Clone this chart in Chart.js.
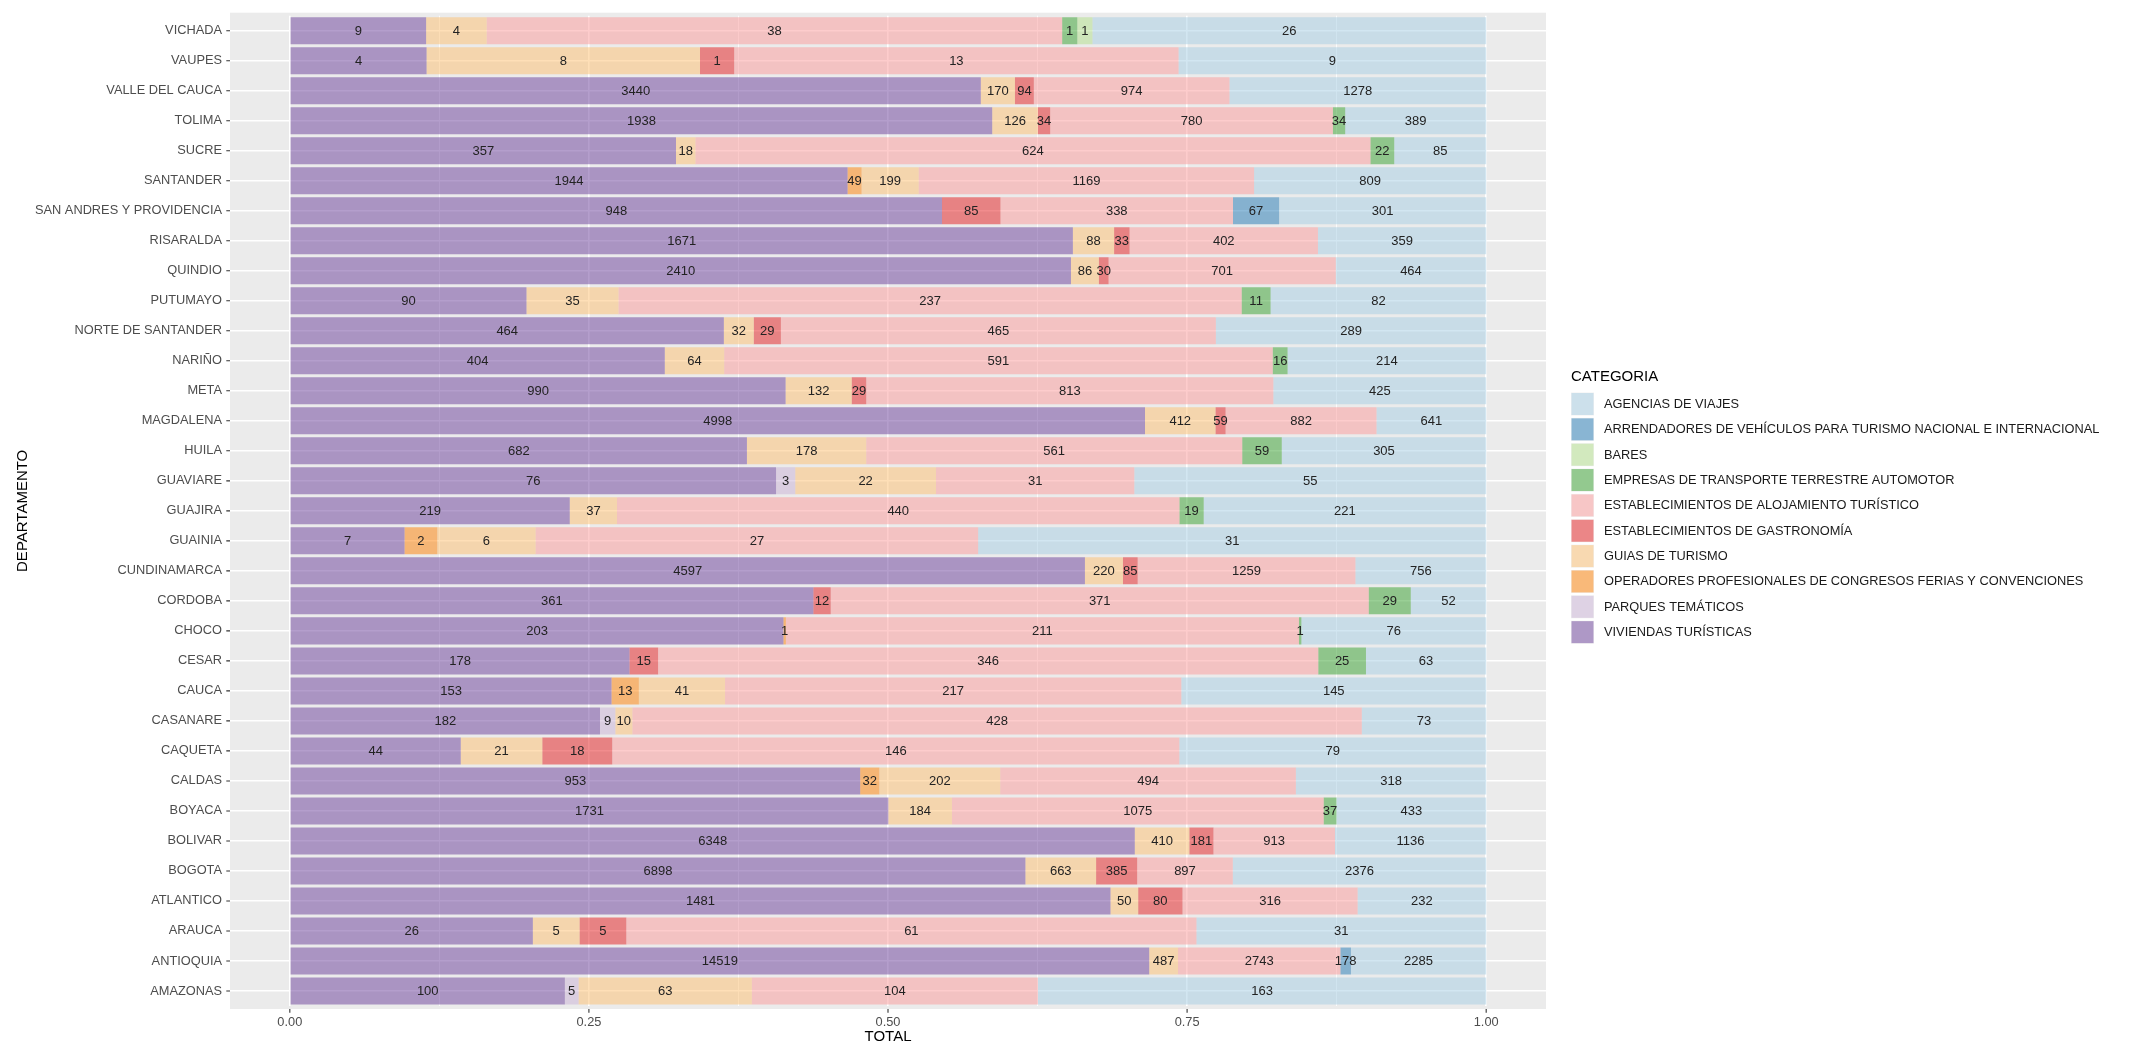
<!DOCTYPE html>
<html>
<head>
<meta charset="utf-8">
<script src="https://cdn.jsdelivr.net/npm/chart.js@4.4.1/dist/chart.umd.min.js"></script>
<style>
  html, body { margin: 0; padding: 0; background: #ffffff; }
  #wrap { width: 2131px; height: 1047px; position: relative; }
</style>
</head>
<body>
<div id="wrap"><canvas id="c"></canvas></div>
<script>
// ---------- DATA ----------
const departments = ["VICHADA","VAUPES","VALLE DEL CAUCA","TOLIMA","SUCRE","SANTANDER","SAN ANDRES Y PROVIDENCIA","RISARALDA","QUINDIO","PUTUMAYO","NORTE DE SANTANDER","NARIÑO","META","MAGDALENA","HUILA","GUAVIARE","GUAJIRA","GUAINIA","CUNDINAMARCA","CORDOBA","CHOCO","CESAR","CAUCA","CASANARE","CAQUETA","CALDAS","BOYACA","BOLIVAR","BOGOTA","ATLANTICO","ARAUCA","ANTIOQUIA","AMAZONAS"];

const viviendas    = [9,4,3440,1938,357,1944,948,1671,2410,90,464,404,990,4998,682,76,219,7,4597,361,203,178,153,182,44,953,1731,6348,6898,1481,26,14519,100];
const parques      = [0,0,0,0,0,0,0,0,0,0,0,0,0,0,0,3,0,0,0,0,0,0,0,9,0,0,0,0,0,0,0,0,5];
const operadores   = [0,0,0,0,0,49,0,0,0,0,0,0,0,0,0,0,0,2,0,0,1,0,13,0,0,32,0,0,0,0,0,0,0];
const guias        = [4,8,170,126,18,199,0,88,86,35,32,64,132,412,178,22,37,6,220,0,0,0,41,10,21,202,184,410,663,50,5,487,63];
const gastronomia  = [0,1,94,34,0,0,85,33,30,0,29,0,29,59,0,0,0,0,85,12,0,15,0,0,18,0,0,181,385,80,5,0,0];
const alojamiento  = [38,13,974,780,624,1169,338,402,701,237,465,591,813,882,561,31,440,27,1259,371,211,346,217,428,146,494,1075,913,897,316,61,2743,104];
const empresas     = [1,0,0,34,22,0,0,0,0,11,0,16,0,0,59,0,19,0,0,29,1,25,0,0,0,0,37,0,0,0,0,0,0];
const bares        = [1,0,0,0,0,0,0,0,0,0,0,0,0,0,0,0,0,0,0,0,0,0,0,0,0,0,0,0,0,0,0,0,0];
const arrendadores = [0,0,0,0,0,0,67,0,0,0,0,0,0,0,0,0,0,0,0,0,0,0,0,0,0,0,0,0,0,0,0,178,0];
const agencias     = [26,9,1278,389,85,809,301,359,464,82,289,214,425,641,305,55,221,31,756,52,76,63,145,73,79,318,433,1136,2376,232,31,2285,163];

const xTickValues = [0, 0.125, 0.25, 0.375, 0.5, 0.625, 0.75, 0.875, 1];

// stacking order (left to right)
const series = [
  { label: "VIVIENDAS TURÍSTICAS", values: viviendas, color: [106,61,154] },
  { label: "PARQUES TEMÁTICOS", values: parques, color: [202,178,214] },
  { label: "OPERADORES PROFESIONALES DE CONGRESOS FERIAS Y CONVENCIONES", values: operadores, color: [255,127,0] },
  { label: "GUIAS DE TURISMO", values: guias, color: [253,191,111] },
  { label: "ESTABLECIMIENTOS DE GASTRONOMÍA", values: gastronomia, color: [227,26,28] },
  { label: "ESTABLECIMIENTOS DE ALOJAMIENTO TURÍSTICO", values: alojamiento, color: [251,154,153] },
  { label: "EMPRESAS DE TRANSPORTE TERRESTRE AUTOMOTOR", values: empresas, color: [51,160,44] },
  { label: "BARES", values: bares, color: [178,223,138] },
  { label: "ARRENDADORES DE VEHÍCULOS PARA TURISMO NACIONAL E INTERNACIONAL", values: arrendadores, color: [31,120,180] },
  { label: "AGENCIAS DE VIAJES", values: agencias, color: [166,206,227] }
];

const totals = departments.map((_, j) => series.reduce((s, d) => s + d.values[j], 0));
const rgba = (c, a) => `rgba(${c[0]},${c[1]},${c[2]},${a})`;

const datasets = series.map(s => ({
  label: s.label,
  data: s.values.map((v, j) => v ? v / totals[j] : null),
  backgroundColor: rgba(s.color, 0.5),
  borderWidth: 0,
  barPercentage: 0.9,
  categoryPercentage: 1.0,
  stack: 's'
}));

const FONT = "'Liberation Sans', Arial, Helvetica, sans-serif";
const isMajor = v => Math.abs(v * 4 - Math.round(v * 4)) < 1e-6;

const decor = {
  id: 'decor',
  beforeDraw(chart) {
    const { ctx, chartArea: a } = chart;
    const rowH = (a.bottom - a.top) / departments.length;
    ctx.save();
    ctx.fillStyle = '#ffffff';
    ctx.fillRect(0, 0, chart.width, chart.height);
    ctx.fillStyle = '#EBEBEB';
    ctx.fillRect(a.left, a.top - 0.1 * rowH, a.right - a.left, a.bottom - a.top + 0.2 * rowH);
    ctx.restore();
  },
  afterDatasetsDraw(chart) {
    const ctx = chart.ctx;
    ctx.save();
    ctx.font = `13px ${FONT}`;
    ctx.fillStyle = '#222222';
    ctx.textAlign = 'center';
    ctx.textBaseline = 'middle';
    series.forEach((s, i) => {
      const meta = chart.getDatasetMeta(i);
      meta.data.forEach((el, j) => {
        const raw = s.values[j];
        if (!raw) return;
        ctx.fillText(String(raw), (el.x + el.base) / 2, el.y + 0.5);
      });
    });
    ctx.restore();
  },
  afterDraw(chart) {
    const { ctx, chartArea: a, scales } = chart;
    const rowH = (a.bottom - a.top) / departments.length;
    const panelBottom = a.bottom + 0.1 * rowH;
    ctx.save();
    // tick marks
    ctx.strokeStyle = '#333333';
    ctx.lineWidth = 1.1;
    ctx.beginPath();
    xTickValues.filter(isMajor).forEach(v => {
      const x = scales.x.getPixelForValue(v);
      ctx.moveTo(x, panelBottom);
      ctx.lineTo(x, panelBottom + 3.7);
    });
    departments.forEach((d, j) => {
      const y = scales.y.getPixelForValue(j);
      ctx.moveTo(a.left - 3.7, y);
      ctx.lineTo(a.left, y);
    });
    ctx.stroke();

    // axis titles
    ctx.fillStyle = '#000000';
    ctx.font = `15px ${FONT}`;
    ctx.textAlign = 'center';
    ctx.textBaseline = 'middle';
    ctx.fillText('TOTAL', (a.left + a.right) / 2, 1037);
    ctx.save();
    ctx.translate(23, (a.top + a.bottom) / 2);
    ctx.rotate(-Math.PI / 2);
    ctx.fillText('DEPARTAMENTO', 0, 0);
    ctx.restore();

    // legend
    const lx = 1571;
    ctx.textAlign = 'left';
    ctx.font = `15px ${FONT}`;
    ctx.fillText('CATEGORIA', lx, 377);
    const legendItems = series.slice().reverse();
    ctx.font = `12.8px ${FONT}`;
    legendItems.forEach((s, i) => {
      const cy = 404 + 25.35 * i;
      ctx.fillStyle = '#F2F2F2';
      ctx.fillRect(lx, cy - 11.5, 23, 23);
      ctx.fillStyle = rgba(s.color, 0.5);
      ctx.fillRect(lx + 0.5, cy - 11, 22, 22);
      ctx.fillStyle = '#1A1A1A';
      ctx.fillText(s.label, 1604, cy + 0.5);
    });
    ctx.restore();
  }
};

new Chart(document.getElementById('c'), {
  type: 'bar',
  data: { labels: departments, datasets },
  plugins: [decor],
  options: {
    indexAxis: 'y',
    responsive: true,
    maintainAspectRatio: false,
    devicePixelRatio: 1,
    animation: false,
    layout: { padding: { left: 0, top: 9, right: 585, bottom: 0 } },
    plugins: { legend: { display: false }, tooltip: { enabled: false } },
    scales: {
      x: {
        type: 'linear',
        stacked: true,
        min: -0.05,
        max: 1.05,
        afterBuildTicks: axis => { axis.ticks = xTickValues.map(v => ({ value: v })); },
        afterFit: axis => { axis.height = 41; },
        border: { display: false },
        grid: {
          color: '#ffffff',
          lineWidth: c => (c.tick && isMajor(c.tick.value)) ? 1.6 : 0.8,
          drawTicks: false
        },
        ticks: {
          autoSkip: false,
          maxRotation: 0,
          padding: 9,
          color: '#4D4D4D',
          font: { family: FONT, size: 12.8 },
          callback: v => isMajor(v) ? v.toFixed(2) : ''
        }
      },
      y: {
        type: 'category',
        stacked: true,
        offset: true,
        afterFit: axis => { axis.width = 230; },
        border: { display: false },
        grid: { color: '#ffffff', lineWidth: 1.6, offset: false, drawTicks: false },
        ticks: {
          autoSkip: false,
          padding: 8,
          color: '#4D4D4D',
          font: { family: FONT, size: 12.8 }
        }
      }
    }
  }
});
</script>
</body>
</html>
